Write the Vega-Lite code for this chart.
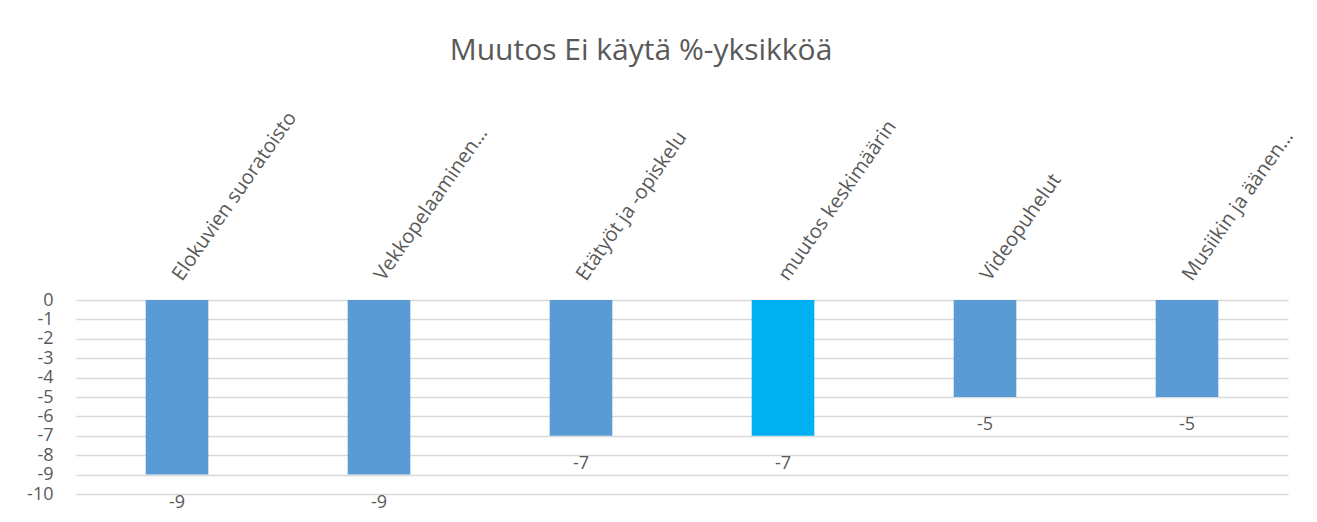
{
  "$schema": "https://vega.github.io/schema/vega-lite/v6.json",
  "autosize": "none",
  "width": 1212,
  "height": 194,
  "padding": {"left": 76, "top": 300, "right": 29, "bottom": 28},
  "background": "white",
  "title": {
    "text": "Muutos Ei käytä %-yksikköä",
    "font": "Open Sans",
    "fontSize": 30,
    "fontWeight": "normal",
    "color": "#595959",
    "anchor": "middle",
    "dx": -41,
    "offset": 42
  },
  "data": {
    "values": [
      {"kategoria": "Elokuvien suoratoisto", "muutos": -9, "tyyppi": "a"},
      {"kategoria": "Vekkopelaaminen…", "muutos": -9, "tyyppi": "a"},
      {"kategoria": "Etätyöt ja -opiskelu", "muutos": -7, "tyyppi": "a"},
      {"kategoria": "muutos keskimäärin", "muutos": -7, "tyyppi": "b"},
      {"kategoria": "Videopuhelut", "muutos": -5, "tyyppi": "a"},
      {"kategoria": "Musiikin ja äänen…", "muutos": -5, "tyyppi": "a"}
    ]
  },
  "encoding": {
    "x": {
      "field": "kategoria",
      "type": "nominal",
      "sort": null,
      "scale": {"paddingInner": 0.69, "paddingOuter": 0.345},
      "axis": {
        "orient": "top",
        "title": null,
        "labelAngle": -55,
        "labelAlign": "left",
        "labelBaseline": "middle",
        "labelFont": "Open Sans",
        "labelFontSize": 20,
        "labelColor": "#595959",
        "labelPadding": 22,
        "labelLimit": 400,
        "ticks": false,
        "domain": false,
        "grid": false
      }
    },
    "y": {
      "field": "muutos",
      "type": "quantitative",
      "scale": {"domain": [-10, 0], "nice": false},
      "axis": {
        "title": null,
        "values": [0, -1, -2, -3, -4, -5, -6, -7, -8, -9, -10],
        "labelFont": "Open Sans",
        "labelFontSize": 18,
        "labelColor": "#595959",
        "labelPadding": 23,
        "labelOverlap": false,
        "ticks": false,
        "domain": false,
        "grid": true,
        "gridColor": "#d9d9d9",
        "gridWidth": 1.3
      }
    }
  },
  "layer": [
    {
      "mark": {"type": "bar"},
      "encoding": {
        "y2": {"datum": 0},
        "color": {
          "field": "tyyppi",
          "type": "nominal",
          "scale": {"domain": ["a", "b"], "range": ["#5B9BD5", "#00B0F0"]},
          "legend": null
        }
      }
    },
    {
      "mark": {
        "type": "text",
        "baseline": "middle",
        "dy": 28,
        "font": "Open Sans",
        "fontSize": 18,
        "color": "#595959"
      },
      "encoding": {
        "text": {"field": "muutos", "type": "quantitative"}
      }
    }
  ],
  "config": {
    "view": {"stroke": null},
    "locale": {
      "number": {
        "decimal": ".",
        "thousands": ",",
        "grouping": [3],
        "currency": ["", ""],
        "minus": "-"
      }
    }
  }
}
